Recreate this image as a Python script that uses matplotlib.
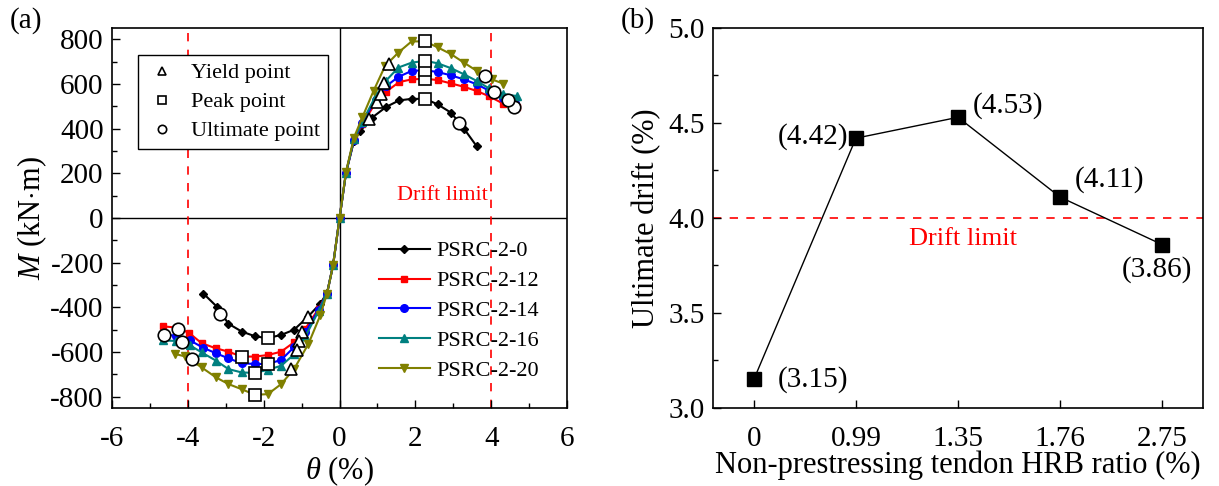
import matplotlib
matplotlib.use('Agg')
import matplotlib.pyplot as plt
from matplotlib.lines import Line2D

plt.rcParams['font.family'] = ['Liberation Serif', 'DejaVu Serif']
plt.rcParams['mathtext.fontset'] = 'custom'
plt.rcParams['mathtext.rm'] = 'Liberation Serif'
plt.rcParams['mathtext.it'] = 'Liberation Serif:italic'
plt.rcParams['axes.unicode_minus'] = False
plt.rcParams['font.size'] = 16

# ---- (a) moment-drift skeleton curves ----
theta_0 = [-3.59, -3.24, -2.93, -2.58, -2.23, -1.90, -1.54, -1.20, -0.84, -0.51, -0.33, -0.17, 0,
           0.17, 0.38, 0.54, 0.85, 1.23, 1.57, 1.90, 2.26, 2.59, 2.94, 3.28, 3.62]
m_0 = [-338, -396, -473, -508, -529, -538, -523, -500, -443, -383, -335, -208, 0,
       201, 345, 388, 448, 497, 526, 533, 533, 508, 471, 400, 320]

theta_12 = [-4.65, -4.30, -3.96, -3.64, -3.26, -2.93, -2.58, -2.23, -1.89, -1.54, -1.20, -0.90, -0.55, -0.33, -0.17, 0,
            0.17, 0.38, 0.60, 0.95, 1.23, 1.57, 1.90, 2.26, 2.59, 2.94, 3.28, 3.62, 3.94, 4.31, 4.67]
m_12 = [-485, -490, -515, -560, -583, -598, -620, -620, -613, -598, -556, -495, -405, -338, -211, 0,
        203, 350, 420, 515, 565, 608, 620, 623, 617, 602, 587, 568, 545, 512, 497]

theta_14 = [-4.66, -4.31, -3.94, -3.59, -3.26, -2.93, -2.58, -2.23, -1.89, -1.54, -1.20, -0.90, -0.55, -0.33, -0.17, 0,
            0.17, 0.38, 0.60, 0.95, 1.23, 1.55, 1.90, 2.26, 2.59, 2.94, 3.28, 3.62, 3.94, 4.31, 4.63]
m_14 = [-523, -526, -548, -581, -605, -628, -650, -653, -653, -635, -578, -510, -410, -338, -211, 0,
        203, 350, 425, 530, 590, 631, 658, 661, 653, 638, 620, 598, 570, 535, 515]

theta_16 = [-4.66, -4.30, -3.94, -3.64, -3.26, -2.93, -2.58, -2.23, -1.89, -1.54, -1.20, -0.90, -0.55, -0.33, -0.17, 0,
            0.17, 0.38, 0.60, 0.95, 1.23, 1.55, 1.90, 2.26, 2.59, 2.94, 3.28, 3.62, 3.94, 4.31, 4.69]
m_16 = [-548, -550, -570, -601, -638, -676, -691, -693, -679, -661, -610, -530, -415, -338, -211, 0,
        203, 352, 430, 545, 615, 673, 695, 703, 692, 670, 643, 613, 580, 555, 545]

theta_20 = [-4.34, -4.08, -3.64, -3.26, -2.93, -2.58, -2.23, -1.89, -1.54, -1.20, -0.82, -0.51, -0.33, -0.17, 0,
            0.17, 0.38, 0.60, 0.90, 1.20, 1.55, 1.90, 2.26, 2.59, 2.94, 3.28, 3.62, 4.02, 4.32]
m_20 = [-608, -619, -668, -713, -743, -766, -791, -788, -743, -676, -563, -436, -338, -211, 0,
        207, 360, 450, 570, 680, 740, 790, 790, 763, 733, 695, 658, 620, 601]

series_labels = ['PSRC-2-0', 'PSRC-2-12', 'PSRC-2-14', 'PSRC-2-16', 'PSRC-2-20']

yield_theta = [0.78, 1.00, 1.09, 1.16, 1.31, -0.82, -0.98, -1.08, -1.12, -1.27]
yield_m = [443, 518, 553, 602, 691, -443, -512, -550, -590, -676]
peak_theta = [2.26, 2.26, 2.26, 2.26, 2.26, -1.90, -2.58, -1.89, -2.23, -2.23]
peak_m = [533, 623, 661, 703, 790, -538, -620, -653, -693, -791]
ult_theta = [3.15, 4.59, 4.43, 4.06, 3.84, -3.15, -4.25, -4.63, -4.16, -3.88]
ult_m = [425, 497, 527, 565, 635, -428, -498, -524, -555, -633]

# ---- (b) ultimate drift vs HRB ratio ----
hrb_ratio = ['0', '0.99', '1.35', '1.76', '2.75']
ult_drift = [3.15, 4.42, 4.53, 4.11, 3.86]

fig = plt.figure(figsize=(12.19, 4.86), dpi=100)
ax1 = fig.add_axes([0.0919, 0.1605, 0.3733, 0.7819])
ax2 = fig.add_axes([0.5849, 0.1605, 0.4020, 0.7819])

# panel a
ax1.axhline(0, color='black', lw=1.0, zorder=1)
ax1.axvline(0, color='black', lw=1.0, zorder=1)
ax1.axvline(-4, color='red', ls=(0, (5, 5)), lw=1.2, zorder=1)
ax1.axvline(4, color='red', ls=(0, (5, 5)), lw=1.2, zorder=1)

styles = [('black', 'D', 4.5), ('red', 's', 5), ('blue', 'o', 5.5), ('#008080', '^', 6), ('#808000', 'v', 6)]
data = [(theta_0, m_0), (theta_12, m_12), (theta_14, m_14), (theta_16, m_16), (theta_20, m_20)]
line_handles = []
for (x, y), (c, mk, ms), lab in zip(data, styles, series_labels):
    h, = ax1.plot(x, y, color=c, marker=mk, ms=ms, lw=1.5, label=lab, zorder=2)
    line_handles.append(h)

ax1.plot(yield_theta, yield_m, ls='none', marker='^', ms=9, mfc='white', mec='black', mew=1.2, zorder=5)
ax1.plot(peak_theta, peak_m, ls='none', marker='s', ms=8, mfc='white', mec='black', mew=1.2, zorder=5)
ax1.plot(ult_theta, ult_m, ls='none', marker='o', ms=9, mfc='white', mec='black', mew=1.2, zorder=5)

ax1.text(2.7, 100, 'Drift limit', color='red', ha='center', va='center', fontsize=16)

ax1.set_xlim(-6, 6)
ax1.set_ylim(-850, 850)
ax1.set_xticks(range(-6, 7, 2))
ax1.set_xticks(range(-5, 6, 2), minor=True)
ax1.set_yticks(range(-800, 801, 200))
ax1.set_yticks(range(-700, 801, 200), minor=True)
ax1.set_xlabel(r'$\mathit{\theta}$ (%)', fontsize=22, labelpad=2)
ax1.set_ylabel(r'$M$ (kN$\cdot$m)', fontsize=22, labelpad=1)

marker_handles = [
    Line2D([], [], ls='none', marker='^', ms=6, mfc='white', mec='black', mew=1.2),
    Line2D([], [], ls='none', marker='s', ms=5.5, mfc='white', mec='black', mew=1.2),
    Line2D([], [], ls='none', marker='o', ms=6, mfc='white', mec='black', mew=1.2),
]
leg1 = ax1.legend(marker_handles, ['Yield point', 'Peak point', 'Ultimate point'],
                  loc='upper left', bbox_to_anchor=(0.057, 0.929), borderaxespad=0,
                  fancybox=False, edgecolor='black', framealpha=1, fontsize=16,
                  labelspacing=0.38, handlelength=1.5, handletextpad=0.55, borderpad=0.35)
leg1.get_frame().set_linewidth(1.0)
ax1.add_artist(leg1)
ax1.legend(handles=line_handles, loc='upper left', bbox_to_anchor=(0.567, 0.463), borderaxespad=0,
           frameon=False, fontsize=16, labelspacing=0.42, handlelength=2.3, handletextpad=0.3)

# panel b
xpos = list(range(len(hrb_ratio)))
ax2.axhline(4.0, color='red', ls=(0, (5, 5)), lw=1.2, zorder=1)
ax2.plot(xpos, ult_drift, color='black', marker='s', ms=10, lw=1.0, zorder=3)
ax2.text(2.05, 3.89, 'Drift limit', color='red', ha='center', va='center', fontsize=19)

offsets = [(0.58, 3.15), (0.58, 4.43), (2.49, 4.59), (3.48, 4.20), (3.95, 3.73)]
for (tx, ty), v in zip(offsets, ult_drift):
    ax2.text(tx, ty, '(%.2f)' % v, ha='center', va='center', fontsize=21)

ax2.set_xlim(-0.4, 4.4)
ax2.set_ylim(3.0, 5.0)
ax2.set_xticks(xpos)
ax2.set_xticklabels(hrb_ratio)
ax2.set_yticks([3.0, 3.5, 4.0, 4.5, 5.0])
ax2.set_yticks([3.25, 3.75, 4.25, 4.75], minor=True)
ax2.yaxis.set_major_formatter(matplotlib.ticker.FormatStrFormatter('%.1f'))
ax2.set_xlabel('Non-prestressing tendon HRB ratio (%)', fontsize=22, labelpad=-1)
ax2.set_ylabel('Ultimate drift (%)', fontsize=22, labelpad=5)

for ax in (ax1, ax2):
    for s in ax.spines.values():
        s.set_linewidth(1.2)
    ax.tick_params(which='major', direction='in', length=6, width=1.0, labelsize=21, pad=6)
    ax.tick_params(which='minor', direction='in', length=3.5, width=1.0)
    ax.tick_params(axis='x', which='major', pad=13)

fig.text(0.008, 0.958, '(a)', fontsize=21, va='center', ha='left')
fig.text(0.509, 0.958, '(b)', fontsize=21, va='center', ha='left')

fig.savefig('out.png', dpi=100)
